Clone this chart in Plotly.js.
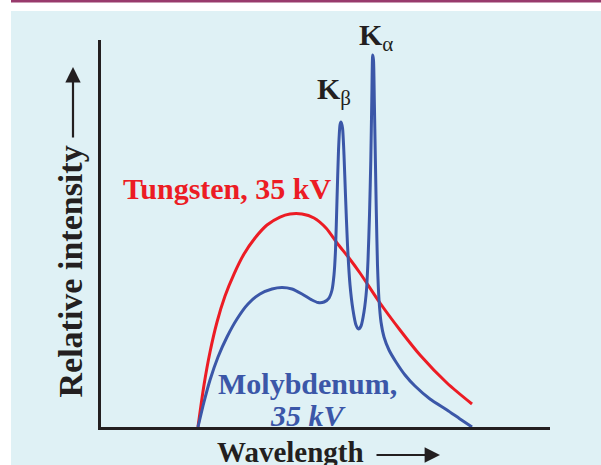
<!DOCTYPE html>
<html>
<head>
<meta charset="utf-8">
<script src="https://cdn.plot.ly/plotly-3.0.1.min.js"></script>
<style>
  html, body { margin: 0; padding: 0; background: #ffffff; }
  #chart { width: 601px; height: 465px; }
</style>
</head>
<body>
<div id="chart"></div>
<script>
// Tungsten, 35 kV (continuous spectrum)
const tungstenWavelength = [21.60, 22.94, 24.28, 25.84, 27.62, 29.62, 31.85, 34.30, 36.97, 39.87, 42.09, 44.77, 47.44, 50.11, 52.56, 55.23, 57.68, 62.14, 66.59, 71.05, 77.06, 82.63];
const tungstenIntensity  = [0.00, 10.85, 19.38, 27.13, 33.85, 39.53, 44.70, 48.84, 52.20, 54.26, 55.04, 55.04, 54.01, 51.42, 47.55, 43.67, 39.79, 32.04, 25.06, 18.60, 11.37, 5.94];

// Molybdenum, 35 kV (continuous spectrum with K-beta and K-alpha lines)
const molybdenumWavelength = [21.60, 22.94, 24.28, 26.06, 28.06, 30.29, 32.74, 35.41, 38.08, 40.31, 42.54, 44.77, 46.99, 48.33, 49.67, 50.78, 51.45, 51.89, 52.23, 52.56, 52.90, 53.23, 53.45, 53.79, 54.12, 54.45, 54.90, 55.46, 56.12, 56.79, 57.35, 57.91, 58.57, 59.13, 59.47, 59.80, 60.09, 60.31, 60.51, 60.69, 60.87, 61.07, 61.31, 61.58, 61.92, 62.36, 63.03, 64.14, 65.70, 67.71, 69.93, 73.27, 77.06, 79.96, 82.63];
const molybdenumIntensity  = [0.00, 6.46, 12.14, 18.09, 23.26, 27.91, 31.78, 34.37, 35.66, 36.05, 35.66, 34.37, 32.82, 32.17, 32.30, 33.33, 35.40, 39.28, 45.74, 58.66, 71.58, 78.04, 78.81, 77.26, 70.28, 59.95, 47.03, 36.69, 30.23, 26.36, 25.32, 26.10, 29.72, 35.40, 43.15, 54.78, 68.99, 84.50, 96.12, 94.83, 84.50, 71.58, 56.07, 41.86, 32.82, 27.13, 23.26, 19.90, 16.80, 13.44, 10.59, 7.24, 4.39, 2.07, 0.00];

const xRange = [0, 100];
const yRange = [0, 100];

const serif = "Liberation Serif, DejaVu Serif, serif";

const traces = [
  {
    x: tungstenWavelength, y: tungstenIntensity,
    type: 'scatter', mode: 'lines',
    line: { color: '#ec1c24', width: 3, shape: 'spline', smoothing: 0.8 },
    hoverinfo: 'skip', showlegend: false
  },
  {
    x: molybdenumWavelength, y: molybdenumIntensity,
    type: 'scatter', mode: 'lines',
    line: { color: '#3b57a8', width: 3, shape: 'spline', smoothing: 0.6 },
    hoverinfo: 'skip', showlegend: false
  }
];

// pixel helpers for decoration placement (plot area: x 101..550, y 40..427)
const L = 101, R = 550, T = 40, B = 427;
const px = v => (v - L) / (R - L);
const py = v => (B - v) / (B - T);

const layout = {
  width: 601, height: 465,
  margin: { l: L, r: 601 - R, t: T, b: 465 - B, pad: 0 },
  paper_bgcolor: '#ffffff',
  plot_bgcolor: 'rgba(0,0,0,0)',
  showlegend: false,
  xaxis: {
    range: xRange, showline: true, linecolor: '#231f20', linewidth: 3,
    showgrid: false, zeroline: false, showticklabels: false, ticks: '', fixedrange: true
  },
  yaxis: {
    range: yRange, showline: true, linecolor: '#231f20', linewidth: 3,
    showgrid: false, zeroline: false, showticklabels: false, ticks: '', fixedrange: true
  },
  shapes: [
    { type: 'rect', xref: 'paper', yref: 'paper', layer: 'below',
      x0: px(11), x1: px(601), y0: py(465), y1: py(11),
      fillcolor: '#dff1f5', line: { width: 0 } },
    { type: 'rect', xref: 'paper', yref: 'paper', layer: 'below',
      x0: px(11), x1: px(601), y0: py(2.6), y1: py(0),
      fillcolor: '#983a6c', line: { width: 0 } }
  ],
  annotations: [
    { text: 'Tungsten, 35 kV', xref: 'paper', yref: 'paper',
      x: px(226.5), y: py(188), xanchor: 'center', yanchor: 'middle', showarrow: false,
      font: { family: serif, size: 30, color: '#ec1c24', weight: 'bold' } },
    { text: 'Molybdenum,', xref: 'paper', yref: 'paper',
      x: px(307.5), y: py(383), xanchor: 'center', yanchor: 'middle', showarrow: false,
      font: { family: serif, size: 30, color: '#3b57a8', weight: 'bold' } },
    { text: '<i>35 kV</i>', xref: 'paper', yref: 'paper',
      x: px(308.5), y: py(415), xanchor: 'center', yanchor: 'middle', showarrow: false,
      font: { family: serif, size: 30, color: '#3b57a8', weight: 'bold' } },
    { text: 'Wavelength', xref: 'paper', yref: 'paper',
      x: px(290.5), y: py(452), xanchor: 'center', yanchor: 'middle', showarrow: false,
      font: { family: serif, size: 29, color: '#231f20', weight: 'bold' } },
    { text: '', xref: 'paper', yref: 'paper', x: px(440), y: py(455),
      showarrow: true, ax: -65, ay: 0, arrowhead: 2, arrowsize: 1.4, arrowwidth: 2.2, arrowcolor: '#231f20' },
    { text: 'Relative intensity', xref: 'paper', yref: 'paper',
      x: px(70), y: py(271.5), xanchor: 'center', yanchor: 'middle', textangle: -90, showarrow: false,
      font: { family: serif, size: 34, color: '#231f20', weight: 'bold' } },
    { text: '', xref: 'paper', yref: 'paper', x: px(73), y: py(67),
      showarrow: true, ax: 0, ay: 72, arrowhead: 2, arrowsize: 1.4, arrowwidth: 2.2, arrowcolor: '#231f20' },
    { text: '<b>K</b><sub>β</sub>', xref: 'paper', yref: 'paper',
      x: px(315), y: py(91), xanchor: 'left', yanchor: 'middle', showarrow: false,
      font: { family: serif, size: 30, color: '#231f20' } },
    { text: '<b>K</b><sub>α</sub>', xref: 'paper', yref: 'paper',
      x: px(357), y: py(37), xanchor: 'left', yanchor: 'middle', showarrow: false,
      font: { family: serif, size: 30, color: '#231f20' } }
  ]
};

Plotly.newPlot('chart', traces, layout, { staticPlot: true, displayModeBar: false });
</script>
</body>
</html>
